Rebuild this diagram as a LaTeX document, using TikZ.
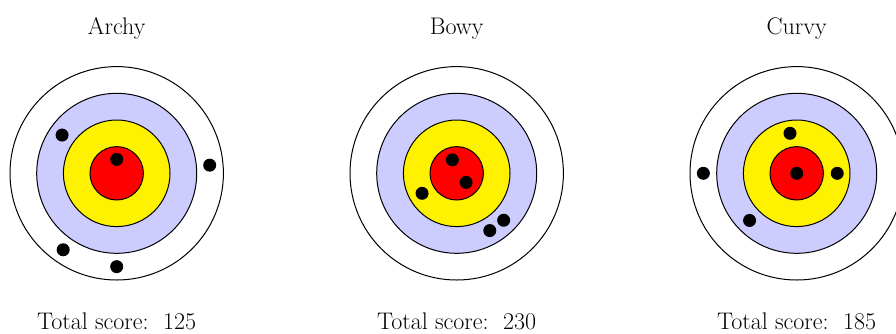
\documentclass[tikz,border=0pt]{standalone}
\definecolor{ringblue}{RGB}{204,204,255}
\tikzset{
  ring/.style={draw=black, line width=1pt},
  hit/.style={fill=black},
  label/.style={font=\fontsize{24}{27}\selectfont, anchor=base, inner sep=0pt},
}
\newcommand{\target}[3]{%
  \begin{scope}[shift={(#1,173.3)}]
    \draw[ring, fill=white] (0,0) circle[radius=106.7pt];
    \draw[ring, fill=ringblue] (0,0) circle[radius=80pt];
    \draw[ring, fill=yellow] (0,0) circle[radius=53.3pt];
    \draw[ring, fill=red] (0,0) circle[radius=26.7pt];
    \foreach \a/\r in {#2} {\fill[hit] (\a:\r*26.67pt) circle[radius=6.5pt];}
  \end{scope}
  \node[label] (t#3) at (#1,34.3) {#3};
}
\begin{document}
\begin{tikzpicture}[x=1pt, y=-1pt]
  \useasboundingbox (0,0) rectangle (896,333);
  \target{116.7}{145/2.5, 90/0.52, 5/3.5, 235/3.5, 270/3.5}{Archy}
  \target{456.7}{108/0.53, 316/0.49, 210/1.5, 300/2.48, 315/2.49}{Bowy}
  \target{796.7}{99.5/1.52, 0/0, 0/1.52, 180/3.5, 225/2.5}{Curvy}
  \node[label] (sa) at (116.7,329.3) {Total score:\ \ 125};
  \node[label] (sb) at (456.7,329.3) {Total score:\ \ 230};
  \node[label] (sc) at (796.7,329.3) {Total score:\ \ 185};
\end{tikzpicture}
\end{document}
